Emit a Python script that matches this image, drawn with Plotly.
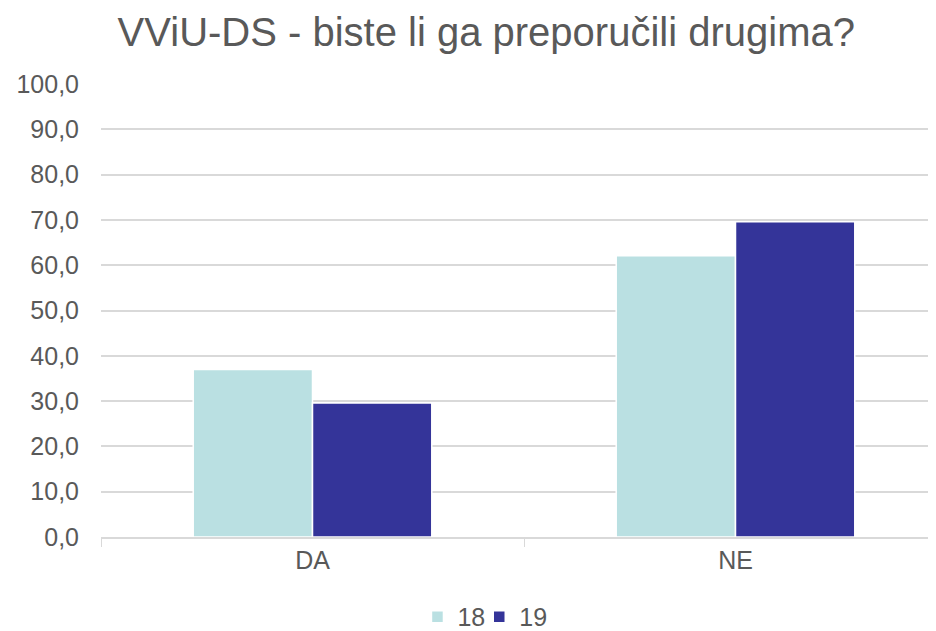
import plotly.graph_objects as go

categories = ["DA", "NE"]
series_names = ["18", "19"]
values_18 = [37.0, 62.1]
values_19 = [29.6, 69.6]
y_ticks = [0, 10, 20, 30, 40, 50, 60, 70, 80, 90, 100]

colors = {"18": "#BAE0E2", "19": "#343499"}
legend_ids = {"18": "legend", "19": "legend2"}

fig = go.Figure()
for name, vals in zip(series_names, [values_18, values_19]):
    fig.add_trace(go.Bar(
        x=categories, y=vals, name=name, legend=legend_ids[name],
        marker=dict(color=colors[name], line=dict(color="white", width=1.5)),
    ))

font_family = "Liberation Sans, Arial, sans-serif"
legend_common = dict(orientation="h", yref="container", y=0.035, yanchor="middle",
                     xanchor="left", font=dict(size=25, color="#595959"),
                     bgcolor="rgba(0,0,0,0)")
fig.update_layout(
    width=936, height=631,
    paper_bgcolor="white", plot_bgcolor="white",
    separators=",.",
    barmode="group", bargap=0.436, bargroupgap=0.0,
    margin=dict(l=93, r=8, t=76, b=102),
    font=dict(family=font_family, color="#595959", size=25),
    title=dict(text="VViU-DS - biste li ga preporučili drugima?",
               x=0.511, xanchor="center", y=0.962, yanchor="middle",
               font=dict(size=40, color="#595959")),
    legend=dict(x=0.379, **legend_common),
    legend2=dict(x=0.453, **legend_common),
    showlegend=True,
)
fig.update_xaxes(
    range=[-0.5, 1.474], showgrid=False,
    showline=True, linecolor="#D9D9D9", linewidth=1.5,
    ticks="outside", tickson="boundaries", ticklen=8, tickcolor="#D9D9D9",
    tickfont=dict(size=25, color="#595959"),
)
fig.update_yaxes(
    range=[0, 100], tickvals=y_ticks, tickformat=".1f",
    showgrid=True, gridcolor="#D9D9D9", gridwidth=1.5,
    showline=False, zeroline=False,
    ticklabelstandoff=21,
    tickfont=dict(size=25, color="#595959"),
)

fig.write_html("out.html")
